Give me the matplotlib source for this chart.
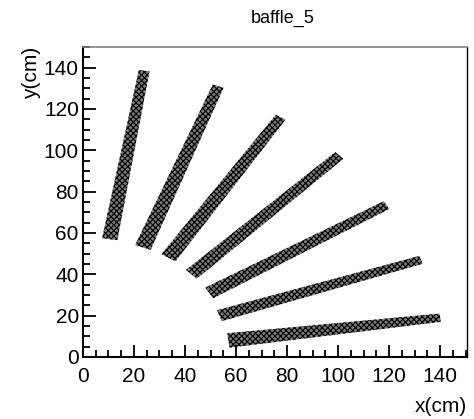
import numpy as np
from matplotlib import pyplot as plt
from matplotlib.patches import Polygon
from matplotlib.ticker import MultipleLocator

plt.rcParams['font.family'] = ['Liberation Sans', 'DejaVu Sans']
plt.rcParams['hatch.linewidth'] = 0.8

# Hit bands on baffle 5: inner / outer end centres (cm) and band widths (cm)
inner_x = [10.5, 23.5, 33.5, 42.5, 49.5, 53.5, 57.0]
inner_y = [57.0, 53.0, 48.0, 40.0, 31.0, 20.0, 8.0]
outer_x = [24.0, 53.0, 77.5, 100.5, 119.0, 132.5, 140.0]
outer_y = [138.5, 131.0, 116.0, 97.5, 73.5, 47.0, 19.0]
inner_w = [6.0, 6.5, 6.5, 6.0, 6.0, 5.6, 7.0]
outer_w = [4.2, 4.5, 4.5, 4.5, 4.3, 4.0, 4.0]

fig = plt.figure(figsize=(4.74, 4.19), dpi=100)
ax = fig.add_axes([0.175, 0.148, 0.81, 0.74])

# Each band is drawn as a tapered strip between its two end centres
for x0, y0, x1, y1, w0, w1 in zip(inner_x, inner_y, outer_x, outer_y, inner_w, outer_w):
    d = np.array([x1 - x0, y1 - y0])
    d = d / np.hypot(*d)
    n = np.array([-d[1], d[0]])
    p0 = np.array([x0, y0])
    p1 = np.array([x1, y1])
    pts = [p0 + n * w0 / 2, p1 + n * w1 / 2, p1 - n * w1 / 2, p0 - n * w0 / 2]
    ax.add_patch(Polygon(pts, closed=True, facecolor='#7c7c7c', edgecolor='black',
                         hatch='xxxxxx', linewidth=0))

ax.set_xlim(0, 150.5)
ax.set_ylim(0, 150)

ax.xaxis.set_major_locator(MultipleLocator(20))
ax.xaxis.set_minor_locator(MultipleLocator(5))
ax.yaxis.set_major_locator(MultipleLocator(20))
ax.yaxis.set_minor_locator(MultipleLocator(5))
ax.tick_params(which='both', direction='in', top=False, right=False, width=1.3, labelsize=15)
ax.tick_params(which='major', length=9)
ax.tick_params(which='minor', length=5)
ax.tick_params(axis='x', pad=7)
ax.tick_params(axis='y', pad=3)

ax.spines['left'].set_linewidth(1.5)
ax.spines['bottom'].set_linewidth(1.5)
ax.spines['right'].set_linewidth(1.0)
ax.spines['top'].set_linewidth(1.2)
ax.spines['top'].set_color('#808080')

ax.set_xlabel('x(cm)', fontsize=15, loc='right')
ax.xaxis.set_label_coords(1.0, -0.128)
# y title sits at the top of the axis, as in ROOT
fig.text(0.067, 0.888, 'y(cm)', fontsize=15, rotation=90, ha='center', va='top')
fig.text(0.597, 0.955, 'baffle_5', fontsize=13, ha='center', va='center')

plt.savefig('out.png', dpi=100)
